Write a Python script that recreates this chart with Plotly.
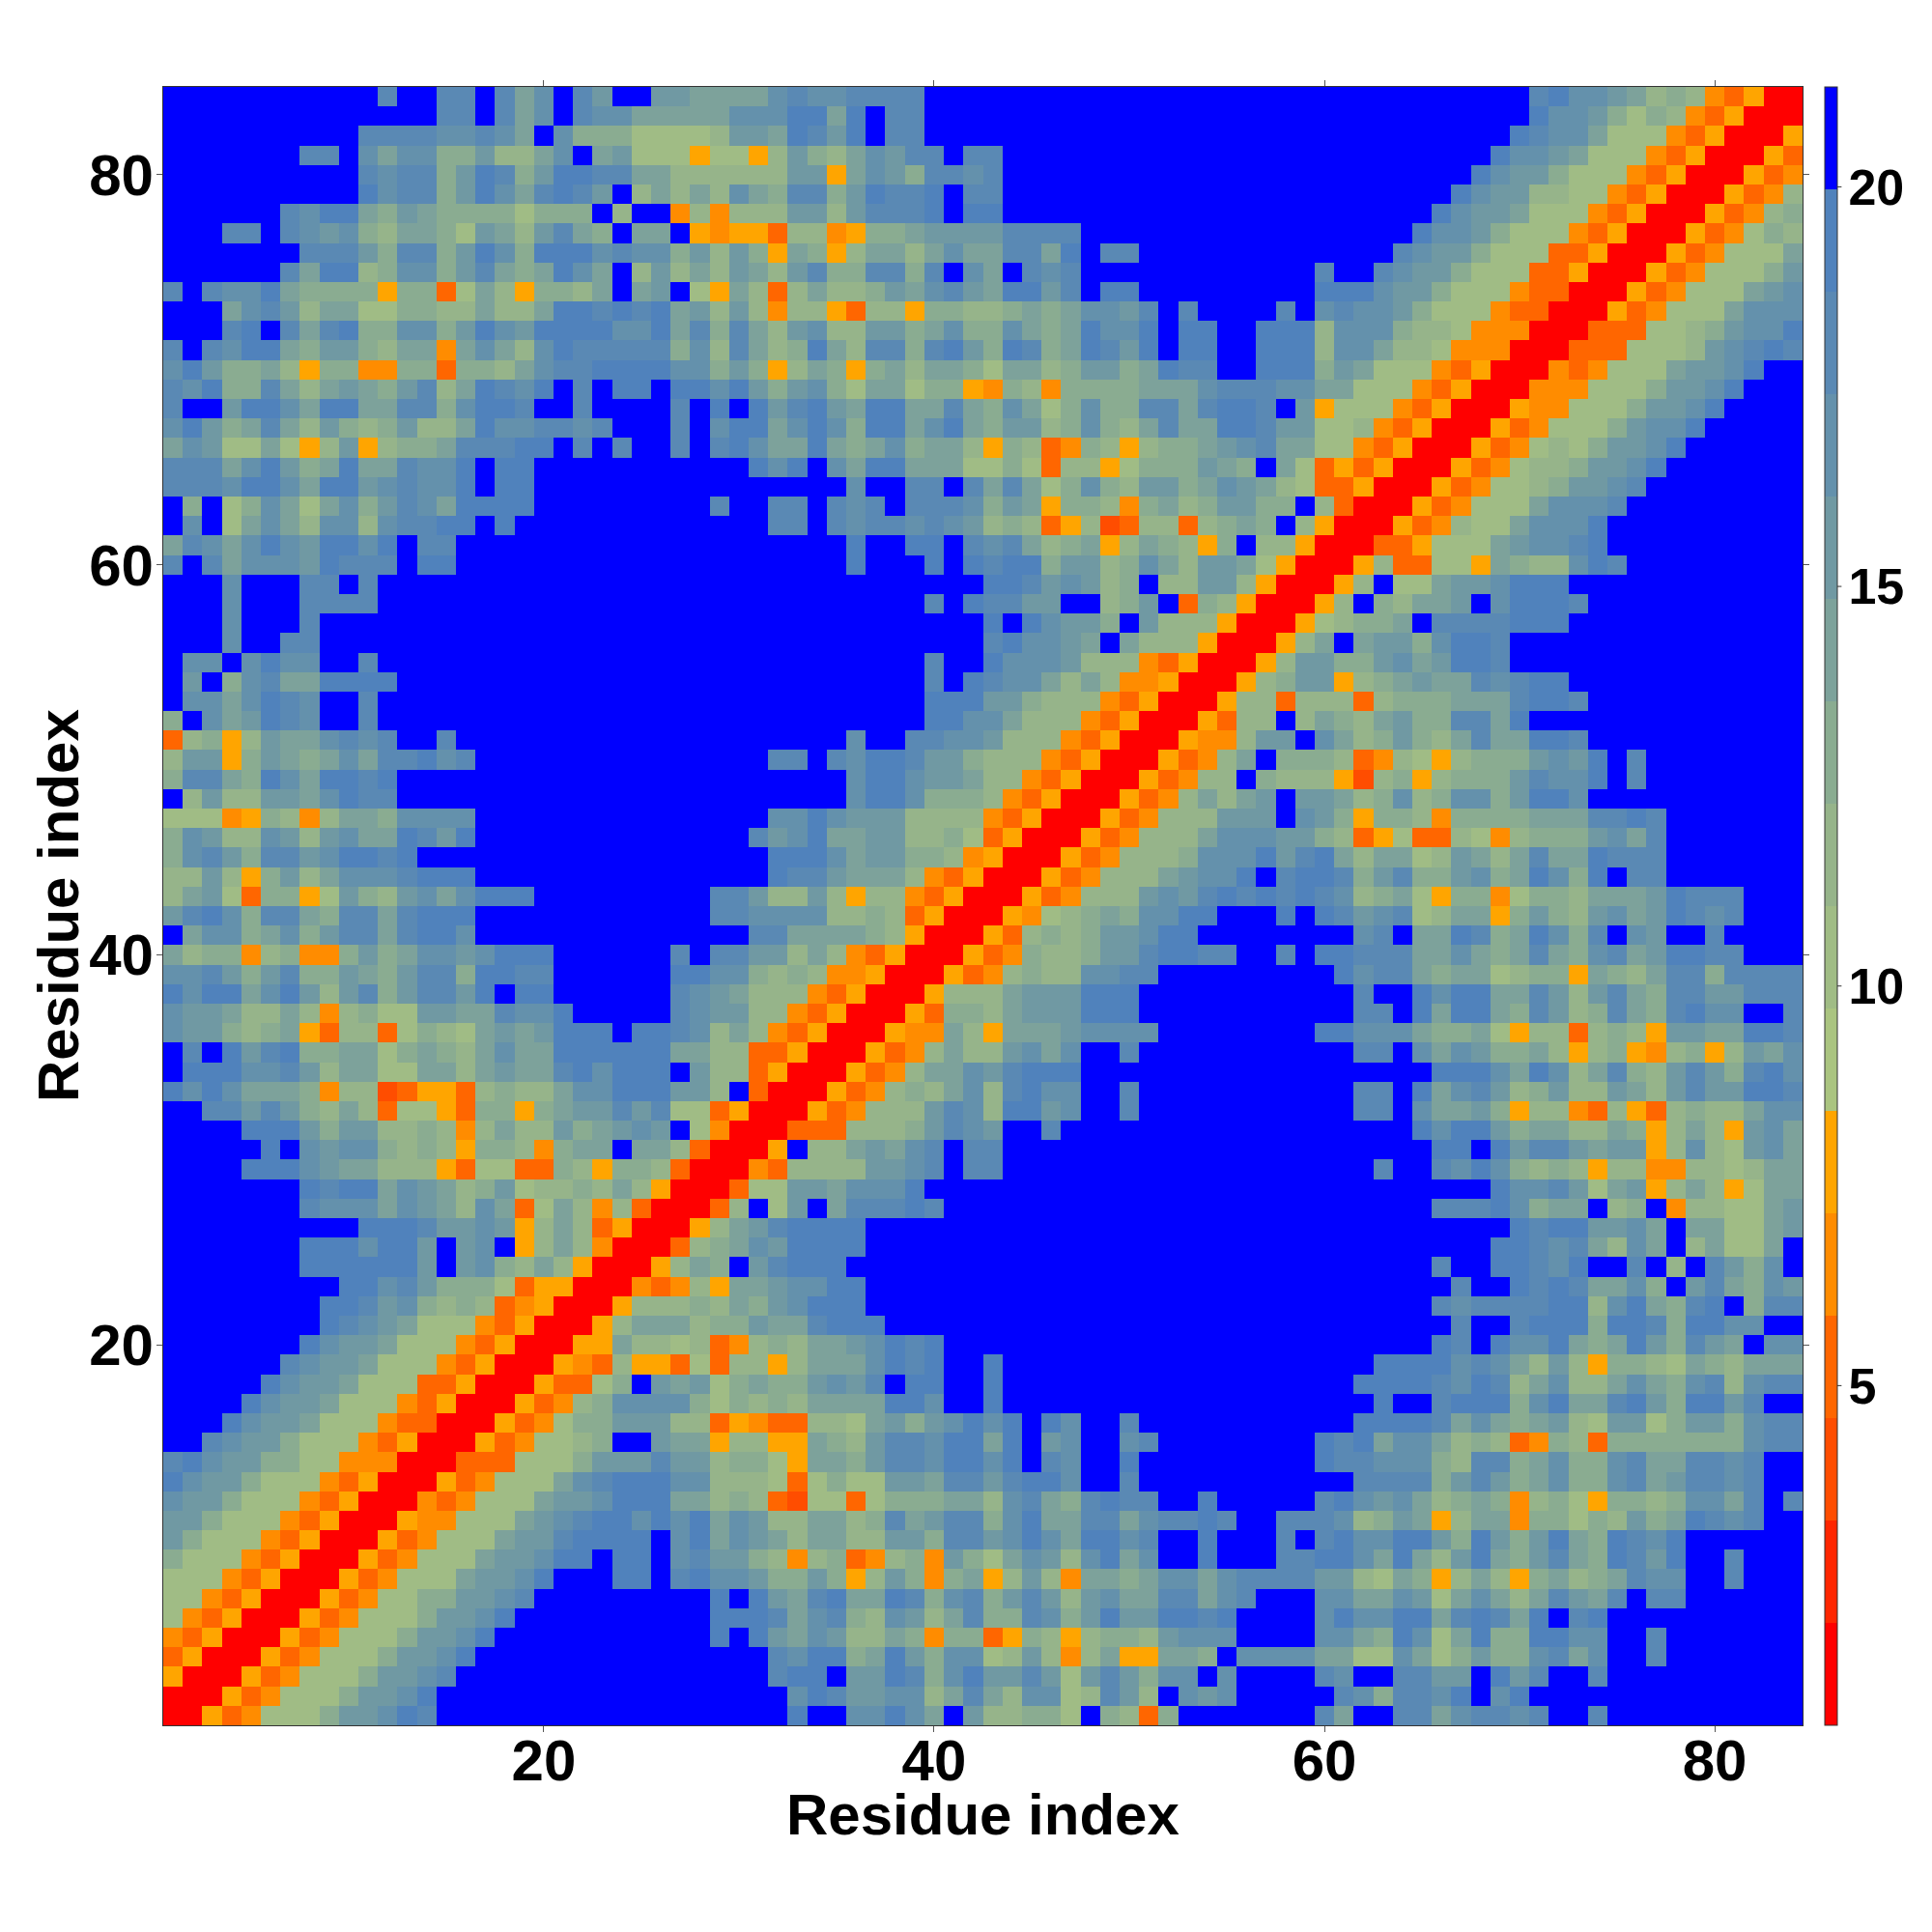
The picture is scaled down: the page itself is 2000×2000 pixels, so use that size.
import plotly.graph_objects as go

RESIDUES = list(range(1, 85))
TICKS = [20, 40, 60, 80]
CBAR_TICKS = [5, 10, 15, 20]
TITLE = "Residue index"

# Band index (hex digit) of each cell left of the diagonal; first line is residue 84, then 83, ...
# Each line holds the cells of columns 1..y-1 (the map is symmetric, the diagonal is band 0).
ROWS_84_57 = [
 "fffffff ffffdff ddfdacf dbffbba aaacdcc ddddfff fffffff fffffff fffffff fffffff deccba8 984350",
 "fffffff fffffff ddfdacf dccaaaa accceea efddfff fffffff fffffff fffffff fffffff eccb979 84350",
 "fffffff fffdddd ccdcafc 9997777 8bbaedb efddfff fffffff fffffff fffffff ffffffe dcca777 4350",
 "fffffff ddfcacc 99b88ac fab7775 7758b98 acbddfd dffffff fffffff fffffff fffffec cba7774 350",
 "fffffff fffdcdd 9bed9be eddaa88 8888bb5 acb9ddc dffffff fffffff fffffff ffffecb b977743 50",
 "fffffff fffecdd 9becade dbf8a8a 8ca9dd9 beddefd dffffff fffffff fffffff fffecbb 8877435 0",
 "ffffffd ceea9ba 9999799 9f8ff48 4888bb8 bdddefe effffff fffffff fffffff ffecbba 7774350",
 "fffddfd cbc98aa 97ba8bd a9faaf5 4553884 599abbb bddddff fffffff fffffff feccb97 774350",
 "fffffff dddb9dd 9bec9ee ecdcc9b 8b95a95 8aa8aca addaefd dffffff fffffff dcbb977 73350",
 "ffffffd aee89cc 9bda9ae caf8b8a 8ba8bd9 9dd9dfc afdcdff fffffff fffdffd cbb9777 3350",
 "dfdccea 9999599 37a8599 8afabf7 5a838a8 89bacdb aeebdfe effffff fffeeec bb97774 330",
 "fffacdb 8aa7799 88a88ae ededeab 8b84885 3885998 89a9acc bdfdfff fdfcdcc b977743 30",
 "fffdefd ade99cc 9becbee eeccead 9da8bc8 8bb9ac9 9ca9aec cefeeff eee8ccc 9887444 0",
 "dfdceea 9bb98aa 4aca8ce ddddd9c 8da89ea 8dd9deb 9ed9aed befeeff eee8cca 8874440",
 "ceb99a8 5994499 3998acd deeeecc 9b958a9 59a8aa9 7aa89bb 9aeddff eee9ba7 774350",
 "dce99da 8aba9bd 8aedcef dfeefee ceb9bc9 7aa7995 4984999 9aaacdd dccaa77 74350",
 "dffbeec aeeaadd 9ceedff dffffdf efebdeb aeeaada 9ca79c9 9ddadee dfb5777 4350",
 "ceb9ada 8b989b8 8aeccdd cdfffdf ceeacec 9eeacea 9bb89c9 8adaaee dbb7784 350",
 "acb77a7 58b5899 adddeef dfdffdf decaaea 9ac9aa8 5983498 5899abc daa7743 50",
 "dddaceb 9aeaadc cefeeff fffffff ffecefc aeeaaa7 7973885 7999ba9 fa73535 0",
 "dddceec aeebcdc cefeeff fffffff fffffff cffddfd ada79c9 8bb9acb a873350",
 "f9f79ca 7ac9bdc aeeeeff fffffff dffddfd cdfdddc 9ba5998 49a89bb 99f830",
 "fcf7aca 8cc8cdd eefefff fffffff fffddfd cddcdcb 8983582 388389a 9f850",
 "adcacec beecefd dffffff fffffff fffffff effeefd cda89a5 8a9859f 8850",
 "dfdaccc bedddfe effffff fffffff fffffff efffefe dee9bb8 9ca8bba 750",
 "fffcfff ddfdfff fffffff fffffff fffffff fffffff eedbcb8 9f88bb8 50",
 "fffcfff ddddfff fffffff fffffff fffffff ffffdfe ddbbff8 9bf3985 0",
 "fffcfff dffffff fffffff fffffff fffffff fffffff efecbb9 fb88850",
]
ROWS_56_29 = [
 "fffcffd dffffff fffffff fffffff fffffff fffffff deccbaf a88850",
 "fccfcec cffdfff fffffff fffffff fffffff ffffdff ecccb88 84350",
 "fbf9cda aeeeeff fffffff fffffff fffffff ffffdfe dcca8a8 4450",
 "fccaced cffdfff fffffff fffffff fffffff ffffeee bb98884 350",
 "9fcabed cffdfff fffffff fffffff fffffff ffffeec ca88843 50",
 "38958ba acdcdff dffffff fffffff fffffff cffddcc b888435 0",
 "8bb59ba 9acadde cdfffff fffffff fffddfd ceedbb9 8884350",
 "9dda9ec aeedeff fffffff fffffff fffffff ceecbba 884350",
 "f8b88bb aceddff fffffff fffffff fffffff ceec999 84350",
 "7774598 48aa9cc ccfffff fffffff fffccec bbb8888 4350",
 "9cb88cb 8bcaaed befffff fffffff ffdbcea abb8897 350",
 "9cdb9dd bceedef fffffff fffffff fffeeec abb9984 50",
 "88b859b 8acccde eefffff fffffff fffeddb aaa8435 0",
 "8ab7399 57b98bc aceeeff fffffff ddb88b8 5884350",
 "bdec9dd a9ddade eefffff fffffff ddcccc8 898350",
 "facc9ac 9bddade ecfffff fffffff ffddaaa a9850",
 "a899489 449b9ac cbceeef fffffdf ddbb8a8 4350",
 "ccdb9bd 99ba9bd d9eeddf fffffee cc98984 450",
 "eceeace b8bd9bd dbefeef fffffdc ba88843 50",
 "cbba88a 848977b baadcce fffffdc bb88435 0",
 "cbb989a 5388379 87ababe eefeedc 8a84350",
 "fdfebde 99aa79a 98acaae eeeeeaa 883350",
 "feeeccd b8aa77a a8abaad eceeefb 88350",
 "ececaaa 9488235 538988a cceeebb 8f30",
 "ffddbdb 98a8377 539959a bbdbd77 350",
 "ffffeee b9bb889 848a88b 9abcbf7 40",
 "fffffef cbcc989 8599849 aafaa83 0",
 "ffffeee cbaa888 5377339 8599830",
]
ROWS_28_2 = [
 "fffffff edeeacb a89b788 98a850",
 "fffffff dcccacb a8ca37a 84830",
 "fffffff fffeeed bbcb58a 8350",
 "fffffff eeeceeb fbcf58a 840",
 "fffffff eeeeeeb fbc98a8 50",
 "fffffff ffeecdb 9997355 0",
 "fffffff feedbc9 8983450",
 "fffffff fedcba7 774350",
 "fffffff ecbba77 74350",
 "ffffffd cbba777 4350",
 "fffffec bba7773 350",
 "ffffecb ba77743 50",
 "fffecbb a777433 0",
 "ffdcbb9 7774350",
 "decbb99 774440",
 "ecbb977 74350",
 "cbb9777 4350",
 "bb97774 350",
 "b977743 50",
 "97774350",
 "7774350",
 "774350",
 "74350",
 "4350",
 "350",
 "50",
 "0",
]
BAND_VALUES = [1.39, 2.67, 3.95, 5.23, 6.51, 7.79, 9.07, 10.35, 11.63, 12.91, 14.19, 15.47, 16.75, 18.03, 19.31, 20.59]
BAND_COLORS = ["#ff0000", "#ff2600", "#ff4d00", "#ff6600", "#ff8c00", "#ffa500",
               "#aac480", "#a0bc85", "#96b48a", "#8aac91", "#7da29b", "#7099a3",
               "#6491ac", "#5a89b4", "#5082bc", "#0000ff"]
Z_MIN, Z_MAX = 0.75, 21.25

lines = ROWS_84_57 + ROWS_56_29 + ROWS_28_2
n = len(RESIDUES)
z = [[BAND_VALUES[0]] * n for _ in range(n)]
problems = []
for k, line in enumerate(lines):
    y = 84 - k
    cells = line.replace(" ", "")
    if len(cells) != y - 1:
        problems.append(f"row {y}: {len(cells)} != {y-1}")
    for c, ch in enumerate(cells[:y - 1]):
        v = BAND_VALUES[int(ch, 16)]
        z[y - 1][c] = v
        z[c][y - 1] = v
if problems:
    raise SystemExit("\n".join(problems))

m = len(BAND_COLORS)
colorscale = []
for i, col in enumerate(BAND_COLORS):
    colorscale += [[i / m, col], [(i + 1) / m, col]]

FONT = "Liberation Sans"
TITLE_FONT = dict(family=FONT, size=60, color="black", weight="bold")
fig = go.Figure(go.Heatmap(
    x=RESIDUES, y=RESIDUES, z=z, zmin=Z_MIN, zmax=Z_MAX, colorscale=colorscale,
    hoverongaps=False,
    colorbar=dict(
        x=1.0136, xanchor="left", xpad=0, y=0.5, yanchor="middle", ypad=0,
        len=1, lenmode="fraction", thickness=13, thicknessmode="pixels",
        outlinewidth=1, outlinecolor="#333333",
        tickmode="array", tickvals=CBAR_TICKS, ticktext=[str(t) for t in CBAR_TICKS],
        ticks="",
        tickfont=dict(family=FONT, size=52, color="black", weight="bold"),
    ),
))
axis = dict(
    range=[0.5, 84.5], tickmode="array", tickvals=TICKS, ticktext=[str(t) for t in TICKS],
    ticks="outside", ticklen=6, tickwidth=1, tickcolor="#555555",
    showline=True, linewidth=1, linecolor="#333333", mirror="ticks",
    showgrid=False, zeroline=False,
    tickfont=dict(family=FONT, size=60, color="black", weight="bold"),
)
# Small tick marks of the colour bar, placed from its own value scale.
cbar_ticks = [dict(type="line", xref="paper", yref="paper", x0=1.0212, x1=1.0238,
                   y0=(v - Z_MIN) / (Z_MAX - Z_MIN), y1=(v - Z_MIN) / (Z_MAX - Z_MIN),
                   line=dict(color="#333333", width=1)) for v in CBAR_TICKS]
axis_titles = [
    dict(text=TITLE, xref="paper", yref="paper", x=0.5, y=0, yanchor="middle", xanchor="center",
         yshift=-92, showarrow=False, font=TITLE_FONT),
    dict(text=TITLE, xref="paper", yref="paper", x=0, y=0.5, yanchor="middle", xanchor="center",
         xshift=-109, textangle=-90, showarrow=False, font=TITLE_FONT),
]
fig.update_layout(
    width=2000, height=2000, autosize=False,
    margin=dict(l=161, r=142, t=82, b=222, pad=0),
    paper_bgcolor="white", plot_bgcolor="white", shapes=cbar_ticks, annotations=axis_titles,
    xaxis=dict(axis, ticklabelstandoff=-22),
    yaxis=dict(axis, ticklabelstandoff=-9),
)
fig.write_html("out.html")
